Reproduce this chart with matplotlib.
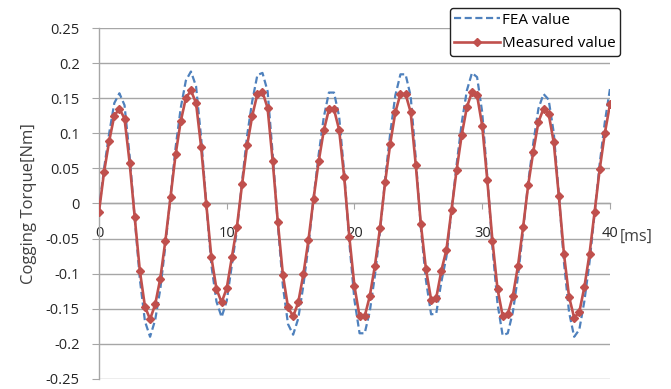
import matplotlib
matplotlib.use("Agg")
import matplotlib.pyplot as plt

# time axis [ms], one sample every 0.4 ms
time_ms = [i * 0.4 for i in range(101)]

fea_value = [
    -0.010, 0.050, 0.100, 0.143, 0.157, 0.140, 0.068, -0.022, -0.108, -0.168,
    -0.190, -0.166, -0.122, -0.060, 0.010, 0.080, 0.136, 0.175, 0.188, 0.167,
    0.093, -0.001, -0.088, -0.140, -0.162, -0.139, -0.088, -0.038, 0.031, 0.097,
    0.146, 0.183, 0.186, 0.160, 0.070, -0.030, -0.118, -0.172, -0.187, -0.164,
    -0.117, -0.060, 0.008, 0.070, 0.123, 0.158, 0.158, 0.124, 0.043, -0.056,
    -0.138, -0.185, -0.185, -0.154, -0.103, -0.040, 0.035, 0.100, 0.154, 0.184,
    0.184, 0.153, 0.064, -0.035, -0.110, -0.158, -0.157, -0.112, -0.076, -0.010,
    0.056, 0.115, 0.161, 0.186, 0.180, 0.130, 0.038, -0.062, -0.143, -0.188,
    -0.185, -0.155, -0.104, -0.039, 0.030, 0.086, 0.135, 0.156, 0.148, 0.101,
    0.013, -0.084, -0.155, -0.190, -0.180, -0.139, -0.084, -0.014, 0.057, 0.116,
    0.163,
]

measured_value = [
    -0.012, 0.045, 0.089, 0.125, 0.135, 0.121, 0.058, -0.020, -0.096, -0.147,
    -0.165, -0.144, -0.107, -0.053, 0.009, 0.070, 0.117, 0.150, 0.161, 0.143,
    0.080, -0.001, -0.077, -0.122, -0.141, -0.121, -0.077, -0.033, 0.027, 0.083,
    0.125, 0.156, 0.159, 0.136, 0.060, -0.026, -0.102, -0.148, -0.161, -0.141,
    -0.101, -0.052, 0.007, 0.060, 0.104, 0.134, 0.134, 0.105, 0.037, -0.048,
    -0.118, -0.161, -0.161, -0.132, -0.089, -0.035, 0.030, 0.085, 0.130, 0.156,
    0.156, 0.130, 0.055, -0.030, -0.094, -0.137, -0.135, -0.096, -0.066, -0.009,
    0.048, 0.098, 0.137, 0.159, 0.154, 0.111, 0.033, -0.053, -0.122, -0.160,
    -0.158, -0.132, -0.089, -0.034, 0.026, 0.074, 0.116, 0.135, 0.128, 0.087,
    0.011, -0.072, -0.133, -0.163, -0.155, -0.119, -0.072, -0.012, 0.049, 0.100,
    0.141,
]

xticks = [0, 10, 20, 30, 40]
yticks = [0.25, 0.2, 0.15, 0.1, 0.05, 0, -0.05, -0.1, -0.15, -0.2, -0.25]
ytick_labels = ["0.25", "0.2", "0.15", "0.1", "0.05", "0",
                "-0.05", "-0.1", "-0.15", "-0.2", "-0.25"]

plt.rcParams['font.family'] = ['Open Sans', 'DejaVu Sans']

fig = plt.figure(figsize=(6.71, 3.89), dpi=100)
ax = fig.add_axes([0.1475, 0.026, 0.7615, 0.902])

ax.plot(time_ms, fea_value, color="#4F81BD", lw=1.6, ls=(0, (3.2, 1.6)),
        label="FEA value", zorder=3)
ax.plot(time_ms, measured_value, color="#C0504D", lw=1.9, marker="D",
        markersize=4.2, label="Measured value", zorder=4)

ax.set_xlim(0, 40)
ax.set_ylim(-0.25, 0.25)
ax.set_yticks(yticks)
ax.set_yticklabels(ytick_labels)
ax.set_xticks(xticks)
ax.set_xticklabels([str(v) for v in xticks])

ax.grid(axis="y", color="#A6A6A6", lw=1.0)
ax.set_axisbelow(True)

for s in ["top", "right"]:
    ax.spines[s].set_visible(False)
ax.spines["bottom"].set_position(("data", 0))
ax.spines["bottom"].set_color("#A6A6A6")
ax.spines["left"].set_color("#A6A6A6")
ax.spines["bottom"].set_linewidth(1.0)
ax.spines["left"].set_linewidth(1.0)

ax.tick_params(axis="y", length=5, color="#A6A6A6", labelsize=10.5,
               labelcolor="#262626", pad=9)
ax.tick_params(axis="x", direction="out", length=4, color="#A6A6A6",
               labelsize=10.5, labelcolor="#262626", pad=12)

ax.set_ylabel("Cogging Torque[Nm]", fontsize=12, color="#404040", labelpad=6)

ax.annotate("[ms]", xy=(40, 0), xytext=(10, -33), textcoords="offset pixels",
            ha="left", va="center", fontsize=11.5, color="#404040")

leg = ax.legend(loc="upper right", bbox_to_anchor=(1.02, 1.057), fontsize=11,
                frameon=True, fancybox=True, edgecolor="#222222",
                framealpha=1.0, handlelength=3.0, handletextpad=0.1,
                borderpad=0.3, labelspacing=0.55, borderaxespad=0)
leg.get_frame().set_linewidth(1.0)

fig.savefig("out.png", dpi=100)
